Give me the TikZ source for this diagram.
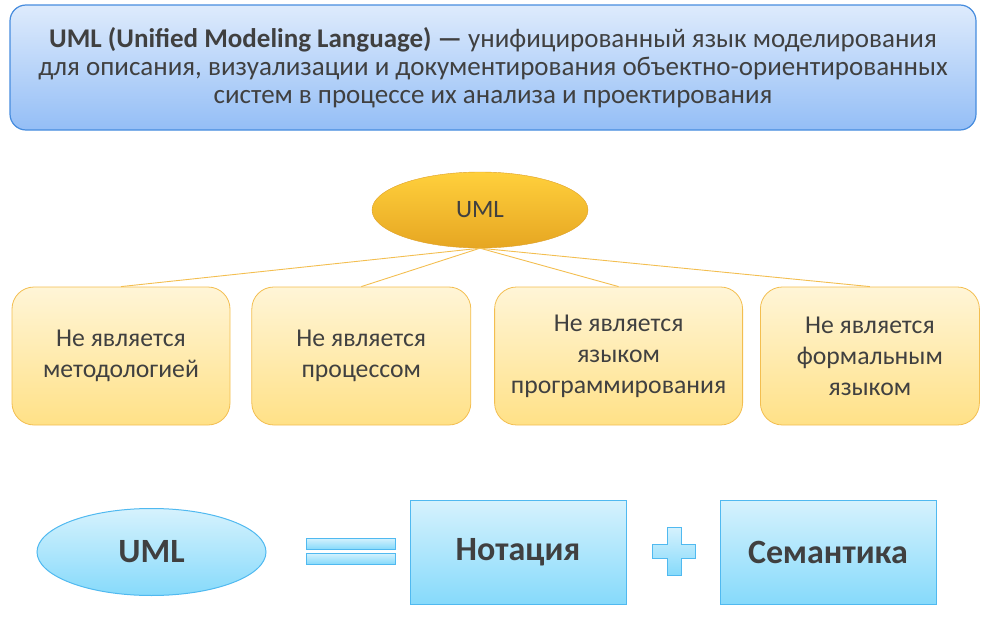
\documentclass[tikz,border=0pt]{standalone}
\usepackage{fontspec}
\setmainfont{Carlito}
\usepackage{tikz}
\usetikzlibrary{shapes.geometric, positioning}
\definecolor{colorText}{RGB}{64,64,64}
\definecolor{colorTitleTop}{RGB}{222,235,252}
\definecolor{colorTitleBot}{RGB}{148,190,246}
\definecolor{colorTitleLine}{RGB}{70,140,222}
\definecolor{colorRootTop}{RGB}{255,208,60}
\definecolor{colorRootBot}{RGB}{230,166,34}
\definecolor{colorRootLine}{RGB}{222,160,40}
\definecolor{colorNoteTop}{RGB}{255,245,215}
\definecolor{colorNoteBot}{RGB}{255,225,135}
\definecolor{colorNoteLine}{RGB}{243,190,80}
\definecolor{colorPartTop}{RGB}{214,242,253}
\definecolor{colorPartBot}{RGB}{134,218,251}
\definecolor{colorPartLine}{RGB}{80,185,240}

\begin{document}
\begin{tikzpicture}[x=1pt, y=-1pt, every node/.style={text=colorText, align=center},
  title/.style={draw=colorTitleLine, line width=1.2pt, rounded corners=16pt, top color=colorTitleTop, bottom color=colorTitleBot, minimum width=966pt, minimum height=125pt, font=\fontsize{27}{28}\selectfont},
  root/.style={ellipse, draw=colorRootLine, top color=colorRootTop, bottom color=colorRootBot, minimum width=216pt, minimum height=76pt, inner sep=0pt, font=\fontsize{25}{30}\selectfont},
  note/.style={draw=colorNoteLine, line width=0.8pt, rounded corners=22pt, top color=colorNoteTop, bottom color=colorNoteBot, minimum height=138pt, font=\fontsize{25.7}{31}\selectfont},
  branch/.style={draw=colorNoteLine, line width=0.9pt},
  part/.style={draw=colorPartLine, line width=1pt, top color=colorPartTop, bottom color=colorPartBot, font=\fontsize{34}{40}\selectfont\bfseries},
  sign/.style={draw=colorPartLine, line width=1pt, top color=colorPartTop, bottom color=colorPartBot}]
\useasboundingbox (0,0) rectangle (986,621);
\node[title] (def) at (493,67.5) {{\bfseries UML (Unified Modeling Language) —} унифицированный язык моделирования\\для описания, визуализации и документирования объектно-ориентированных\\систем в процессе их анализа и проектирования};
\node[root] (uml) at (480,210) {UML};
\node[note, minimum width=218pt] (n1) at (121,356) {Не является\\методологией};
\node[note, minimum width=219pt, right=21pt of n1] (n2) {Не является\\процессом};
\node[note, minimum width=248pt, right=23pt of n2] (n3) {Не является\\языком\\программирования};
\node[note, minimum width=219pt, right=17pt of n3] (n4) {Не является\\формальным\\языком};
\foreach \n in {n1,n2,n3,n4}
  \draw[branch] (uml.south) -- (\n.north);
% UML = notation + semantics
\node[part, ellipse, minimum width=229pt, minimum height=87pt, inner sep=0pt] (lhs) at (151.5,552) {UML};
\node[sign, minimum width=89pt, minimum height=11pt, inner sep=0pt] (eq1) at (350.5,543.5) {};
\node[sign, minimum width=89pt, minimum height=11pt, inner sep=0pt] (eq2) at (350.5,558.5) {};
\node[part, minimum width=216pt, minimum height=104pt] (nota) at (518,552) {Нотация};
\path[sign] (667,527) -- (681,527) -- (681,544) -- (695,544) -- (695,558) -- (681,558) -- (681,575) -- (667,575) -- (667,558) -- (652,558) -- (652,544) -- (667,544) -- cycle;
\node[part, minimum width=216pt, minimum height=104pt] (sem) at (828,552) {Семантика};
\end{tikzpicture}
\end{document}
